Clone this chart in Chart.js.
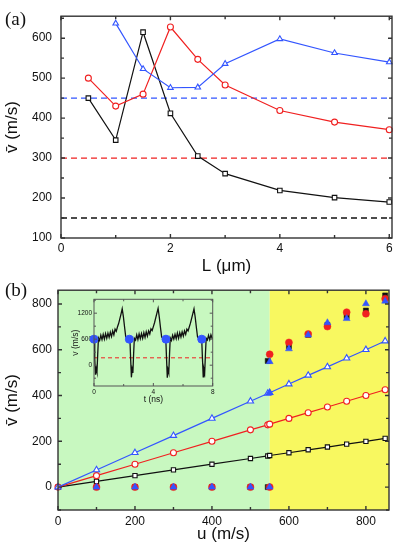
<!DOCTYPE html>
<html>
<head>
<meta charset="utf-8">
<script src="https://cdn.jsdelivr.net/npm/chart.js@4.4.1/dist/chart.umd.min.js"></script>
<style>
  html, body { margin: 0; padding: 0; background: #fff; }
  #wrap { position: relative; width: 399px; height: 545px; overflow: hidden; }
  canvas { position: absolute; }
  .tag { position: absolute; font-family: 'Liberation Serif', 'DejaVu Serif', serif; font-size: 19px; color: #111; line-height: 22px; }
</style>
</head>
<body>
<div id="wrap">
  <canvas id="chartA" width="399" height="277" style="left:0;top:0"></canvas>
  <canvas id="chartB" width="399" height="268" style="left:0;top:277px"></canvas>
  <canvas id="inset" width="160" height="115" style="left:60px;top:290px"></canvas>
  <div class="tag" style="left:5px;top:8px">(a)</div>
  <div class="tag" style="left:5px;top:279px">(b)</div>
</div>
<script>
// ---- panel (a): mean velocity vs L ----
const lVals = [0.5, 1, 1.5, 2, 2.5, 3, 4, 5, 6];
const aBlack = [450, 345, 615, 412, 305, 261, 219, 201, 190];
const aRed = [500, 430, 460, 628, 547, 483, 419, 390, 371];
const aBlue = [null, 637, 523, 476, 477, 536, 598, 563, 540];
const aRefLevels = [450, 300, 150]; // blue, red, black dashed
const aTicksX = [0, 2, 4, 6];
const aMinorX = [1, 3, 5];
const aTicksY = [100, 200, 300, 400, 500, 600];
const aMinorY = [150, 250, 350, 450, 550, 650];
const aXMax = 6.05;

// ---- panel (b): mean velocity vs u ----
const uVals = [0, 100, 200, 300, 400, 500, 545, 550, 600, 650, 700, 750, 800, 850];
const bOpenBlack = [0, 25, 50, 75, 100, 125, 136, 138, 150, 163, 175, 188, 200, 213];
const bOpenRed = [0, 50, 100, 150, 200, 250, 272, 275, 300, 325, 350, 375, 400, 425];
const bOpenBlue = [0, 75, 150, 225, 300, 375, 409, 412, 450, 488, 525, 563, 600, 638];
const uFillBlack = [100, 200, 300, 400, 500, 545, 545, 600, 650, 700, 750, 800, 850];
const vFillBlack = [0, 0, 0, 0, 0, 0, 551, 615, 665, 708, 747, 771, 837];
const uFillRed = [100, 200, 300, 400, 500, 550, 550, 600, 650, 700, 750, 800, 850];
const vFillRed = [0, 0, 0, 0, 0, 0, 580, 632, 669, 701, 764, 757, 823];
const uFillBlue = [100, 200, 300, 400, 500, 550, 550, 550, 600, 650, 700, 750, 800, 850];
const vFillBlue = [0, 0, 0, 0, 0, 0, 412, 548, 604, 664, 718, 736, 801, 812];
const uSplit = 550; // green / yellow boundary
const bTicksX = [0, 200, 400, 600, 800];
const bMinorX = [100, 300, 500, 700];
const bTicksY = [0, 200, 400, 600, 800];
const bMinorY = [-100, 100, 300, 500, 700];

// ---- inset: v(t) ----
const insetT = [
  0, 0.05, 0.10, 0.15, 0.20, 0.25, 0.30, 0.38, 0.46, 0.54, 0.62, 0.70, 0.78, 0.86, 0.94, 1.02,
  1.10, 1.18, 1.26, 1.34, 1.42, 1.50, 1.58, 1.66, 1.74, 1.82, 1.90, 1.98, 2.06, 2.14, 2.22, 2.30, 2.38,
  2.42, 2.47, 2.52, 2.57, 2.62, 2.67, 2.72, 2.80, 2.88, 2.96, 3.04, 3.12, 3.20, 3.28, 3.36, 3.44,
  3.52, 3.60, 3.68, 3.76, 3.84, 3.92, 4.00, 4.08, 4.16, 4.24, 4.32, 4.40, 4.48, 4.56, 4.64, 4.72, 4.80,
  4.84, 4.89, 4.94, 4.99, 5.04, 5.09, 5.14, 5.22, 5.30, 5.38, 5.46, 5.54, 5.62, 5.70, 5.78, 5.86,
  5.94, 6.02, 6.10, 6.18, 6.26, 6.34, 6.42, 6.50, 6.58, 6.66, 6.74, 6.82, 6.90, 6.98, 7.06, 7.14, 7.22,
  7.26, 7.31, 7.36, 7.41, 7.46, 7.51, 7.56, 7.64, 7.72, 7.80, 7.88, 7.96, 8.00
];
const insetV = [
  600, 150, -220, -80, -160, 250, 630, 570, 690, 590, 710, 600, 730, 620, 740, 640,
  760, 660, 790, 700, 830, 780, 880, 960, 1070, 1180, 1300, 1120, 880, 650, 620, 650, 610,
  600, 150, -280, -90, -180, 260, 620, 580, 700, 590, 720, 610, 730, 620, 750, 640,
  770, 670, 790, 720, 840, 800, 890, 980, 1090, 1200, 1310, 1110, 870, 650, 620, 650, 610,
  600, 140, -290, -100, -170, 250, 630, 570, 690, 600, 710, 610, 740, 620, 750, 650,
  770, 670, 790, 710, 830, 790, 880, 970, 1080, 1190, 1300, 1110, 870, 650, 620, 650, 610,
  600, 150, -270, -90, -170, 250, 620, 580, 690, 590, 700, 620, 650
];
const dotT = [0, 2.38, 4.85, 7.26];
const dotV = [600, 600, 600, 600];
const insetMean = 170;
const iTicksX = [0, 4, 8];
const iMinorX = [2, 6];
const iTicksY = [0, 600, 1200];
const iMinorY = [-300, 300, 900, 1500];

const COL = { black: '#111111', red: '#f02020', blue: '#3355ff' };
const SANS = "'Liberation Sans', Arial, Helvetica, sans-serif";
const tickFont = { family: SANS, size: 12 };
const titleFont = { family: SANS, size: 17 };

const pts = (xs, ys) => xs.map((x, i) => ({ x, y: ys[i] }));

// box around the plot + inward ticks on all four sides
const framePlugin = {
  id: 'frame',
  afterDraw(chart, args, o) {
    const { ctx, chartArea: a, scales: { x, y } } = chart;
    ctx.save();
    ctx.strokeStyle = o.color;
    ctx.lineWidth = o.width;
    ctx.beginPath();
    [...o.xMajor.map(v => [v, o.major]), ...o.xMinor.map(v => [v, o.minor])].forEach(([v, len]) => {
      const px = x.getPixelForValue(v);
      ctx.moveTo(px, a.bottom); ctx.lineTo(px, a.bottom - len);
      ctx.moveTo(px, a.top); ctx.lineTo(px, a.top + len);
    });
    [...o.yMajor.map(v => [v, o.major]), ...o.yMinor.map(v => [v, o.minor])].forEach(([v, len]) => {
      const py = y.getPixelForValue(v);
      ctx.moveTo(a.left, py); ctx.lineTo(a.left + len, py);
      ctx.moveTo(a.right, py); ctx.lineTo(a.right - len, py);
    });
    ctx.stroke();
    ctx.strokeRect(a.left, a.top, a.right - a.left, a.bottom - a.top);
    ctx.restore();
  }
};

// green / yellow regions of panel (b)
const bandPlugin = {
  id: 'bands',
  beforeDraw(chart, args, o) {
    const { ctx, chartArea: a, scales: { x } } = chart;
    const mid = x.getPixelForValue(o.split);
    ctx.save();
    ctx.fillStyle = o.left;
    ctx.fillRect(a.left, a.top, mid - a.left, a.bottom - a.top);
    ctx.fillStyle = o.right;
    ctx.fillRect(mid, a.top, a.right - mid, a.bottom - a.top);
    ctx.restore();
  }
};

function axis(min, max, ticks, fit, tickOpts, title) {
  return {
    type: 'linear', min, max,
    afterBuildTicks: s => { s.ticks = ticks.map(v => ({ value: v })); },
    afterFit: fit,
    grid: { display: false, drawTicks: false },
    border: { display: false },
    ticks: Object.assign({ color: '#111', autoSkip: false, maxRotation: 0, callback: v => String(v) }, tickOpts),
    title: Object.assign({ display: true, color: '#111' }, title)
  };
}

function openSeries(xs, ys, color, style, r, order) {
  return {
    data: pts(xs, ys), borderColor: color, borderWidth: 1.2,
    pointStyle: style, pointRadius: r, pointBorderColor: color,
    pointBackgroundColor: '#ffffff', pointBorderWidth: 1.1,
    tension: 0, order, clip: false
  };
}

function filledSeries(xs, ys, color, style, r, order) {
  return {
    data: pts(xs, ys), showLine: false, pointStyle: style, pointRadius: r,
    pointBackgroundColor: color, pointBorderColor: color, pointBorderWidth: 0.5,
    order, clip: false
  };
}

const base = {
  responsive: false, animation: false, devicePixelRatio: 1, events: []
};

// ---- chart (a) ----
const refColors = [COL.blue, COL.red, COL.black];
new Chart(document.getElementById('chartA'), {
  type: 'line',
  data: {
    datasets: [
      openSeries(lVals, aBlue, COL.blue, 'triangle', 3.2, 1),
      openSeries(lVals, aRed, COL.red, 'circle', 3, 2),
      openSeries(lVals, aBlack, COL.black, 'rect', 3.2, 3),
      ...aRefLevels.map((lv, i) => ({
        data: [{ x: 0, y: lv }, { x: aXMax, y: lv }],
        borderColor: refColors[i], borderWidth: 1.3, borderDash: [6, 4],
        pointRadius: 0, order: 10
      }))
    ]
  },
  options: Object.assign({}, base, {
    layout: { padding: { top: 5, right: 7, left: 0, bottom: 0 } },
    scales: {
      x: axis(0, aXMax, aTicksX, s => { s.height = 39; }, { font: tickFont, padding: 3 },
        { text: 'L (μm)', font: titleFont, padding: 0 }),
      y: axis(100, 655, aTicksY, s => { s.width = 61; }, { font: tickFont, padding: 9 },
        { text: 'v\u0304 (m/s)', font: titleFont, padding: { top: 2, bottom: 0 } })
    },
    plugins: {
      legend: { display: false }, tooltip: { enabled: false },
      frame: { color: '#333', width: 1.4, major: 4, minor: 3,
        xMajor: aTicksX, xMinor: aMinorX, yMajor: aTicksY, yMinor: aMinorY }
    }
  }),
  plugins: [framePlugin]
});

// ---- chart (b) ----
new Chart(document.getElementById('chartB'), {
  type: 'line',
  data: {
    datasets: [
      filledSeries(uFillBlue, vFillBlue, COL.blue, 'triangle', 4, 1),
      filledSeries(uFillRed, vFillRed, COL.red, 'circle', 3.5, 2),
      filledSeries(uFillBlack, vFillBlack, COL.black, 'rect', 3.6, 3),
      openSeries(uVals, bOpenBlue, COL.blue, 'triangle', 3.6, 4),
      openSeries(uVals, bOpenRed, COL.red, 'circle', 3, 5),
      openSeries(uVals, bOpenBlack, COL.black, 'rect', 3, 6)
    ]
  },
  options: Object.assign({}, base, {
    layout: { padding: { top: 2, right: 10, left: 0, bottom: 0 } },
    scales: {
      x: axis(0, 860, bTicksX, s => { s.height = 35; }, { font: tickFont, padding: 4 },
        { text: 'u (m/s)', font: titleFont, padding: 0 }),
      y: axis(-100, 860, bTicksY, s => { s.width = 58; }, { font: tickFont, padding: 6 },
        { text: 'v\u0304 (m/s)', font: titleFont, padding: { top: 2, bottom: 0 } })
    },
    plugins: {
      legend: { display: false }, tooltip: { enabled: false },
      bands: { split: uSplit, left: '#c8f8c0', right: '#f8f860' },
      frame: { color: '#333', width: 1.4, major: 4, minor: 3,
        xMajor: bTicksX, xMinor: bMinorX, yMajor: bTicksY, yMinor: bMinorY }
    }
  }),
  plugins: [bandPlugin, framePlugin]
});

// ---- inset ----
const smallTick = { family: SANS, size: 6.5 };
const smallTitle = { family: SANS, size: 8.5 };
new Chart(document.getElementById('inset'), {
  type: 'line',
  data: {
    datasets: [
      { data: pts(dotT, dotV), showLine: false, pointRadius: 4, pointBackgroundColor: COL.blue,
        pointBorderColor: COL.blue, order: 1, clip: false },
      { data: pts(insetT, insetV), borderColor: '#111', borderWidth: 1.3, pointRadius: 0, tension: 0, order: 2 },
      { data: [{ x: 0, y: insetMean }, { x: 8, y: insetMean }], borderColor: COL.red, borderWidth: 1,
        borderDash: [4, 3], pointRadius: 0, order: 3 }
    ]
  },
  options: Object.assign({}, base, {
    layout: { padding: { top: 9.3, right: 7.3, left: 0, bottom: 0 } },
    scales: {
      x: axis(0, 8, iTicksX, s => { s.height = 19; }, { font: smallTick, padding: 2 },
        { text: 't (ns)', font: smallTitle, padding: 0 }),
      y: axis(-480, 1520, iTicksY, s => { s.width = 34; }, { font: smallTick, padding: 2 },
        { text: 'v (m/s)', font: smallTitle, padding: { top: 11, bottom: 0 } })
    },
    plugins: {
      legend: { display: false }, tooltip: { enabled: false },
      frame: { color: '#555', width: 1, major: 3, minor: 2,
        xMajor: iTicksX, xMinor: iMinorX, yMajor: iTicksY, yMinor: iMinorY }
    }
  }),
  plugins: [framePlugin]
});
</script>
</body>
</html>
